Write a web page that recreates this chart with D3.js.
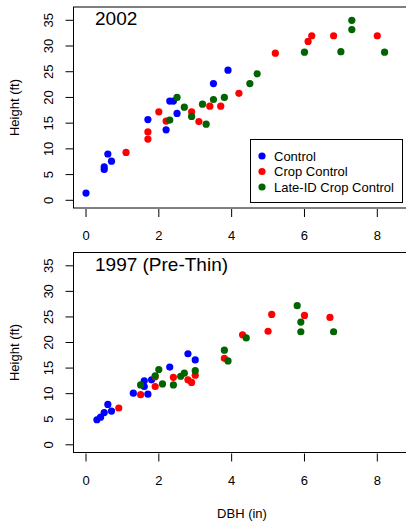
<!DOCTYPE html>
<html>
<head>
<meta charset="utf-8">
<script src="https://cdn.jsdelivr.net/npm/d3@7"></script>
<style>
  body { margin: 0; background: #fff; }
  svg { display: block; font-family: "Liberation Sans", Arial, sans-serif; }
</style>
</head>
<body>
<div id="chart"></div>
<script>
// DBH vs height, two survey years

const groups = ["Control", "Crop Control", "Late-ID Crop Control"];
const colors = ["#0000ff", "#ff0000", "#006400"];

// 2002
const ctl02x = [0, 0.5, 0.5, 0.6, 0.7, 1.7, 2.2, 2.3, 2.4, 2.5, 3.5, 3.9];
const ctl02y = [1.4, 6.5, 6.0, 9.0, 7.6, 15.7, 13.7, 19.3, 19.3, 16.9, 22.7, 25.3];
const crop02x = [1.1, 1.7, 1.7, 2.0, 2.2, 2.9, 3.1, 3.4, 3.7, 4.2, 5.2, 6.1, 6.2, 6.8, 8.0];
const crop02y = [9.3, 13.3, 11.9, 17.2, 15.4, 17.2, 15.3, 18.3, 18.3, 20.8, 28.6, 30.9, 32.0, 32.0, 32.0];
const late02x = [2.3, 2.5, 2.7, 2.9, 3.2, 3.3, 3.5, 3.8, 4.5, 4.7, 6.0, 7.0, 7.3, 7.3, 8.2];
const late02y = [15.6, 20.0, 18.1, 16.3, 18.7, 14.8, 19.6, 20.0, 22.7, 24.6, 28.8, 28.9, 33.2, 35.0, 28.8];

// 1997 (pre-thin)
const ctl97x = [0.3, 0.4, 0.5, 0.6, 0.7, 1.3, 1.6, 1.6, 1.7, 1.8, 2.3, 2.8, 3.0];
const ctl97y = [4.9, 5.4, 6.3, 7.9, 6.6, 10.1, 12.5, 11.4, 9.9, 12.7, 15.2, 17.8, 16.6];
const crop97x = [0.9, 1.5, 1.9, 1.9, 2.4, 2.8, 2.9, 3.0, 3.8, 4.3, 5.0, 5.1, 6.0, 6.7];
const crop97y = [7.2, 9.8, 13.3, 11.4, 13.2, 12.7, 12.2, 13.6, 16.9, 21.5, 22.2, 25.5, 25.3, 24.9];
const late97x = [1.5, 1.9, 2.0, 2.1, 2.4, 2.6, 2.7, 3.0, 3.8, 3.9, 4.4, 5.8, 5.9, 5.9, 6.8];
const late97y = [11.7, 13.5, 14.7, 11.9, 11.7, 13.4, 14.0, 14.5, 18.5, 16.4, 20.9, 27.2, 24.0, 22.1, 22.1];

const xTicks = [0, 2, 4, 6, 8];
const yTicks = [0, 5, 10, 15, 20, 25, 30, 35];

const width = 406, height = 521;

const svg = d3.select("#chart")
    .append("svg")
    .attr("width", width)
    .attr("height", height);

const panels = [
    { title: "2002", top: 7, bottom: 208, legend: true,
      sets: [[ctl02x, ctl02y], [crop02x, crop02y], [late02x, late02y]] },
    { title: "1997 (Pre-Thin)", top: 252.5, bottom: 452.5, legend: false,
      sets: [[ctl97x, ctl97y], [crop97x, crop97y], [late97x, late97y]] }
];

const boxLeft = 73.5, boxRight = 412;

// same x scale for both panels
const x = d3.scaleLinear().domain([0, 8]).range([86, 377.3]);

panels.forEach(p => {
    // data 0 sits 7.7px above the box bottom, 35 sits 13px below the top
    const y = d3.scaleLinear().domain([0, 35]).range([p.bottom - 7.7, p.top + 13.3]);
    const g = svg.append("g");

    // box (right side runs off the page)
    g.append("rect")
        .attr("x", boxLeft).attr("y", p.top)
        .attr("width", boxRight - boxLeft).attr("height", p.bottom - p.top)
        .attr("fill", "none").attr("stroke", "#000").attr("stroke-width", 1);

    // y axis ticks + rotated labels
    g.selectAll(".ytick").data(yTicks).join("line")
        .attr("x1", boxLeft - 8).attr("x2", boxLeft)
        .attr("y1", d => y(d)).attr("y2", d => y(d))
        .attr("stroke", "#000");
    g.selectAll(".ylab").data(yTicks).join("text")
        .attr("transform", d => `translate(53,${y(d)}) rotate(-90)`)
        .attr("text-anchor", "middle")
        .attr("font-size", 13)
        .text(d => d);

    g.append("text")
        .attr("transform", `translate(19,${(p.top + p.bottom) / 2}) rotate(-90)`)
        .attr("text-anchor", "middle")
        .attr("font-size", 13)
        .text("Height (ft)");

    // x axis ticks + labels
    g.selectAll(".xtick").data(xTicks).join("line")
        .attr("x1", d => x(d)).attr("x2", d => x(d))
        .attr("y1", p.bottom + 1).attr("y2", p.bottom + 9)
        .attr("stroke", "#000");
    g.selectAll(".xlab").data(xTicks).join("text")
        .attr("x", d => x(d))
        .attr("y", p.bottom + 32)
        .attr("text-anchor", "middle")
        .attr("font-size", 13)
        .text(d => d);

    // points
    p.sets.forEach((s, i) => {
        g.selectAll(null).data(s[0].map((v, k) => [v, s[1][k]])).join("circle")
            .attr("cx", d => x(d[0]))
            .attr("cy", d => y(d[1]))
            .attr("r", 3.6)
            .attr("fill", colors[i]);
    });

    // panel title
    g.append("text")
        .attr("x", 95).attr("y", p.top + 18)
        .attr("font-size", 19)
        .text(p.title);

    if (p.legend) {
        const lg = g.append("g");
        lg.append("rect")
            .attr("x", 250.5).attr("y", 139.5)
            .attr("width", 152).attr("height", 63)
            .attr("fill", "#fff").attr("stroke", "#000");
        groups.forEach((name, i) => {
            lg.append("circle")
                .attr("cx", 262).attr("cy", 156 + i * 15.5)
                .attr("r", 3.6).attr("fill", colors[i]);
            lg.append("text")
                .attr("x", 274).attr("y", 156 + i * 15.5 + 4.6)
                .attr("font-size", 13)
                .text(name);
        });
    }
});

svg.append("text")
    .attr("x", 242).attr("y", 518)
    .attr("text-anchor", "middle")
    .attr("font-size", 13)
    .text("DBH (in)");
</script>
</body>
</html>
